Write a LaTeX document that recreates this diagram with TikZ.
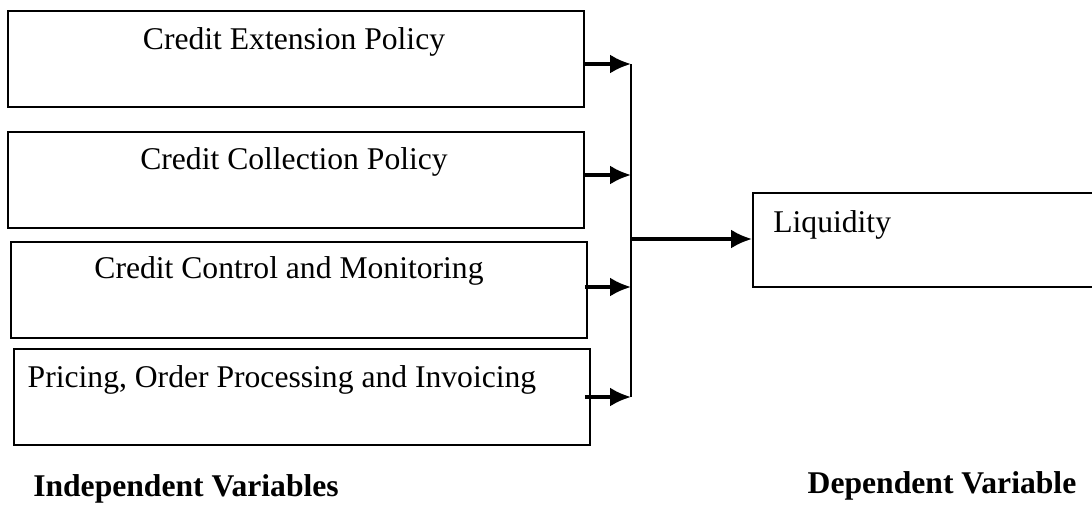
\documentclass[tikz,border=0pt]{standalone}
\usepackage{fontspec}
\setmainfont{Liberation Serif}
\usetikzlibrary{arrows.meta}

\tikzset{
	box/.style={draw, line width=1.1pt, inner sep=0pt, minimum width=11.52cm, minimum height=1.92cm, anchor=north west},
	lbl/.style={anchor=base, inner sep=0pt, font=\fontsize{18}{21}\selectfont},
	arr/.style={line width=1.8pt, -{Latex[length=0.42cm, width=0.38cm]}}
}

\begin{document}
\begin{tikzpicture}[x=0.02cm, y=-0.02cm]
		\clip (0,0) rectangle (1092,504);
		
		\node[box] (ext) at (7,10) {};
		\node[box] (coll) at (7,131) {};
		\node[box] (ctl) at (10,241) {};
		\node[box] (ord) at (13,348) {};
		\node[box, minimum width=6.88cm, minimum height=1.88cm] (liq) at (752,192) {};
		
		\node[lbl] (extlbl) at (294,49) {Credit Extension Policy};
		\node[lbl] (colllbl) at (294,169) {Credit Collection Policy};
		\node[lbl] (ctllbl) at (289,278) {Credit Control and Monitoring};
		\node[lbl] (ordlbl) at (282,387) {Pricing, Order Processing and Invoicing};
		\node[lbl, anchor=base west] (liqlbl) at (773,232) {Liquidity};
		
		\node[lbl, font=\fontsize{18}{21}\selectfont\bfseries] (indep) at (186,496) {Independent Variables};
		\node[lbl, font=\fontsize{18}{21}\selectfont\bfseries] (dep) at (942,493) {Dependent Variable};
		
		% joining line
		\coordinate (j1) at (631,64);
		\coordinate (j2) at (631,175);
		\coordinate (j3) at (631,287);
		\coordinate (j4) at (631,397);
		\coordinate (jm) at (631,239);
		\draw[line width=1.1pt] (j1) -- (j4);
		
		\draw[arr] (ext.east |- j1) -- (j1);
		\draw[arr] (ext.east |- j2) -- (j2);
		\draw[arr] (ext.east |- j3) -- (j3);
		\draw[arr] (ext.east |- j4) -- (j4);
		\draw[arr] (jm) -- (liq.west |- jm);
	\end{tikzpicture}
\end{document}
